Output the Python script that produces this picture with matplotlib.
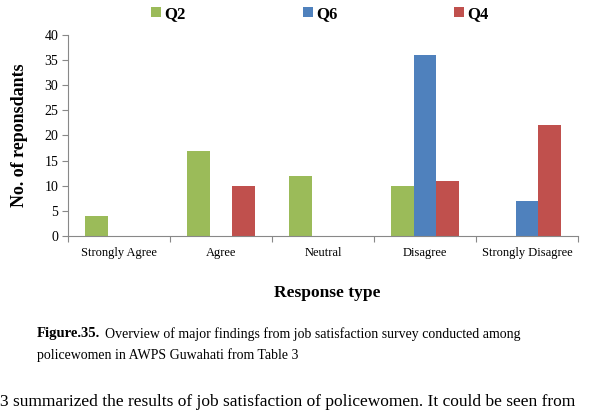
import numpy as np
import matplotlib.pyplot as plt

# Données
categories = ['Strongly Agree', 'Agree', 'Neutral', 'Disagree', 'Strongly Disagree']
q2 = [4, 17, 12, 10, 0]
q6 = [0, 0, 0, 36, 7]
q4 = [0, 10, 0, 11, 22]
series = [('Q2', q2, '#9BBB59'), ('Q6', q6, '#4F81BD'), ('Q4', q4, '#C0504D')]

plt.rcParams['font.family'] = ['Liberation Serif', 'DejaVu Serif']

fig = plt.figure(figsize=(6.06, 4.13), dpi=100)
ax = fig.add_axes([0.1122, 0.4286, 0.8416, 0.4867])

x = np.arange(len(categories))
largeur = 0.225
for i, (nom, valeurs, couleur) in enumerate(series):
    ax.bar(x + (i - 1) * largeur, valeurs, largeur, color=couleur, label=nom)

ax.set_xlim(-0.5, len(categories) - 0.5)
ax.set_ylim(0, 40)
ax.set_yticks(range(0, 41, 5))
ax.set_xticks(np.arange(-0.5, len(categories), 1.0))
ax.set_xticklabels([])
ax.set_xticks(x, minor=True)
ax.set_xticklabels(categories, minor=True, fontsize=9)
ax.tick_params(axis='x', which='minor', length=0, pad=8)
ax.tick_params(axis='x', which='major', length=4, color='#888888')
ax.tick_params(axis='y', length=4, color='#888888', labelsize=10, pad=3)
for cote in ['top', 'right']:
    ax.spines[cote].set_visible(False)
for cote in ['left', 'bottom']:
    ax.spines[cote].set_color('#888888')

ax.set_ylabel('No. of reponsdants', fontsize=13, fontweight='bold', labelpad=12)
fig.text(0.5395, 1 - 293 / 413, 'Response type', fontsize=12.5, fontweight='bold',
         ha='center', va='center')

leg = fig.legend(loc='center', bbox_to_anchor=(0.528, 1 - 14 / 413), ncol=3,
                 frameon=False, handlelength=0.6, handleheight=0.6, handletextpad=0.2,
                 columnspacing=7.0, prop={'weight': 'bold', 'size': 12})

# Légende de la figure et texte du document
fig.text(37 / 606, 1 - 334 / 413, 'Figure.35.', fontsize=10.5, fontweight='bold',
         ha='left', va='center')
fig.text(105 / 606, 1 - 334 / 413,
         'Overview of major findings from job satisfaction survey conducted among',
         fontsize=10, ha='left', va='center')
fig.text(37 / 606, 1 - 355 / 413, 'policewomen in AWPS Guwahati from Table 3',
         fontsize=10, ha='left', va='center')
fig.text(0.0, 1 - 402 / 413,
         '3 summarized the results of job satisfaction of policewomen. It could be seen from',
         fontsize=12.5, ha='left', va='center')

fig.savefig('out.png', dpi=100)
